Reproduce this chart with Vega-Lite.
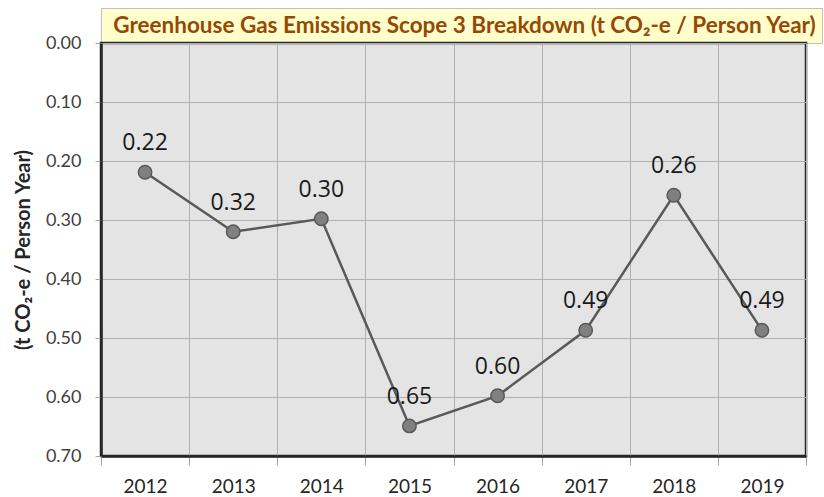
{
  "$schema": "https://vega.github.io/schema/vega-lite/v6.json",
  "background": "white",
  "padding": {"left": 12, "top": 7, "right": 2, "bottom": 5},
  "spacing": 0,
  "bounds": "flush",
  "config": {"font": "Lato"},
  "datasets": {
    "emissions": [
      {"year": "2012", "value": 0.219},
      {"year": "2013", "value": 0.32},
      {"year": "2014", "value": 0.298},
      {"year": "2015", "value": 0.649},
      {"year": "2016", "value": 0.598},
      {"year": "2017", "value": 0.487},
      {"year": "2018", "value": 0.258},
      {"year": "2019", "value": 0.487}
    ],
    "heading": [
      {"label": "Greenhouse Gas Emissions Scope 3 Breakdown (t CO₂-e / Person Year)"}
    ]
  },
  "vconcat": [
    {
      "width": 721,
      "height": 35,
      "view": {"fill": "#FFFFCC", "stroke": "#BFBFBF", "strokeWidth": 1},
      "data": {"name": "heading"},
      "mark": {"type": "text", "font": "Lato", "fontWeight": "bold", "fontSize": 22.5, "color": "#974806", "align": "center", "baseline": "middle", "dx": 3},
      "encoding": {"text": {"field": "label"}}
    },
    {
      "width": 705,
      "height": 413,
      "view": {"fill": "#E4E4E4", "stroke": "#262626", "strokeWidth": 2.5},
      "data": {"name": "emissions"},
      "encoding": {
        "x": {
          "field": "year", "type": "ordinal",
          "scale": {"type": "band", "paddingInner": 0, "paddingOuter": 0},
          "axis": {
            "title": null, "labelAngle": 0, "tickBand": "extent",
            "grid": true, "gridColor": "#B0B0B0", "gridWidth": 1,
            "domainColor": "#262626", "domainWidth": 2.5,
            "tickColor": "#A6A6A6", "tickSize": 9,
            "labelFont": "Lato", "labelFontSize": 19, "labelColor": "#262626", "labelPadding": 12
          }
        },
        "y": {
          "field": "value", "type": "quantitative",
          "scale": {"domain": [0, 0.7], "reverse": true, "nice": false, "zero": false},
          "axis": {
            "title": "(t CO₂-e  / Person Year)",
            "titleFont": "Lato", "titleFontSize": 20, "titleFontWeight": "bold", "titleColor": "#262626", "titlePadding": 12,
            "values": [0, 0.1, 0.2, 0.3, 0.4, 0.5, 0.6, 0.7],
            "format": ".2f",
            "grid": true, "gridColor": "#B0B0B0", "gridWidth": 1,
            "domainColor": "#262626", "domainWidth": 2.5,
            "tickColor": "#A6A6A6", "tickSize": 6,
            "labelFont": "Lato", "labelFontSize": 18, "labelColor": "#404040", "labelPadding": 14
          }
        }
      },
      "layer": [
        {"mark": {"type": "line", "color": "#595959", "strokeWidth": 2.5}},
        {"mark": {"type": "point", "shape": "circle", "filled": true, "size": 180, "fill": "#808080", "stroke": "#595959", "strokeWidth": 1.5, "opacity": 1}},
        {
          "mark": {"type": "text", "font": "Open Sans", "fontSize": 23, "color": "#1a1a1a", "dy": -29, "baseline": "middle"},
          "encoding": {"text": {"field": "value", "type": "quantitative", "format": ".2f"}}
        }
      ]
    }
  ]
}
